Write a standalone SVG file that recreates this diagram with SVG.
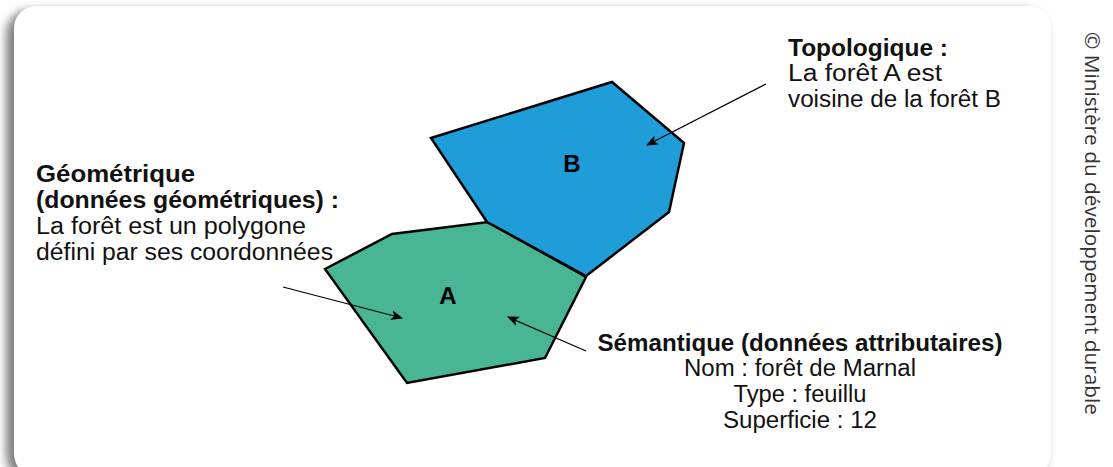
<svg xmlns="http://www.w3.org/2000/svg" width="1113" height="467" viewBox="0 0 1113 467">
  <defs>
    <filter id="soft" x="-5%" y="-5%" width="110%" height="110%">
      <feGaussianBlur stdDeviation="5"/>
    </filter>
    <marker id="head" viewBox="0 0 12 10" refX="11" refY="5" markerWidth="12" markerHeight="10" markerUnits="userSpaceOnUse" orient="auto">
      <path d="M0,0 L12,5 L0,10 L3,5 Z" fill="#000"/>
    </marker>
  </defs>
  <style>
    .poly { stroke: #000; stroke-width: 2.5; stroke-linejoin: miter; }
    .forestA { fill: #48B595; }
    .forestB { fill: #1E9DD8; }
    .lbl { font-family: "Liberation Sans", Arial, sans-serif; font-size: 23px; fill: #111; }
    .b { font-weight: bold; }
    .tag { font-family: "Liberation Sans", Arial, sans-serif; font-size: 24px; font-weight: bold; fill: #000; }
    .lead { stroke: #000; stroke-width: 1.2; fill: none; marker-end: url(#head); }
    .credit { font-family: "Open Sans", "DejaVu Sans", sans-serif; font-size: 20.5px; fill: #333; }
  </style>

  <rect width="1113" height="467" fill="#fff"/>

  <!-- card with drop shadow -->
  <g id="card">
    <rect x="6" y="10" width="1040" height="470" rx="24" fill="#555" opacity="0.75" filter="url(#soft)"/>
    <rect x="14" y="6" width="1037" height="470" rx="22" fill="#fff"/>
  </g>

  <!-- forest A -->
  <g id="forest-a">
    <polygon class="poly forestA" points="325,269 392,234 488,222 586,277 545,358 407,383"/>
    <text class="tag" x="448" y="304" text-anchor="middle">A</text>
  </g>

  <!-- forest B -->
  <g id="forest-b">
    <polygon class="poly forestB" points="431,138 612,82 684,143 669,212 586,276 487,222"/>
    <text class="tag" x="572" y="172" text-anchor="middle">B</text>
  </g>

  <!-- leader lines -->
  <g id="connectors">
    <line class="lead" x1="283" y1="287" x2="402" y2="318"/>
    <line class="lead" x1="586" y1="351" x2="508" y2="317"/>
    <line class="lead" x1="766" y1="84" x2="647" y2="145"/>
  </g>

  <!-- geometric description -->
  <g id="label-geometric">
    <text class="lbl b" x="36" y="182" textLength="159" lengthAdjust="spacingAndGlyphs">Géométrique</text>
    <text class="lbl b" x="36" y="208" textLength="303" lengthAdjust="spacingAndGlyphs">(données géométriques) :</text>
    <text class="lbl" x="36" y="234" textLength="270" lengthAdjust="spacingAndGlyphs">La forêt est un polygone</text>
    <text class="lbl" x="36" y="260" textLength="297" lengthAdjust="spacingAndGlyphs">défini par ses coordonnées</text>
  </g>

  <!-- topological description -->
  <g id="label-topologic">
    <text class="lbl b" x="788" y="56" textLength="160" lengthAdjust="spacingAndGlyphs">Topologique :</text>
    <text class="lbl" x="788" y="81" textLength="154" lengthAdjust="spacingAndGlyphs">La forêt A est</text>
    <text class="lbl" x="788" y="107" textLength="213" lengthAdjust="spacingAndGlyphs">voisine de la forêt B</text>
  </g>

  <!-- semantic description -->
  <g id="label-semantic" text-anchor="middle">
    <text class="lbl b" x="800" y="351" textLength="405" lengthAdjust="spacingAndGlyphs">Sémantique (données attributaires)</text>
    <text class="lbl" x="800" y="376" textLength="232" lengthAdjust="spacingAndGlyphs">Nom : forêt de Marnal</text>
    <text class="lbl" x="800" y="402" textLength="133" lengthAdjust="spacingAndGlyphs">Type : feuillu</text>
    <text class="lbl" x="800" y="428" textLength="154" lengthAdjust="spacingAndGlyphs">Superficie : 12</text>
  </g>

  <!-- credit line -->
  <text class="credit" transform="translate(1085,32) rotate(90)" textLength="383" lengthAdjust="spacingAndGlyphs">© Ministère du développement durable</text>
</svg>
